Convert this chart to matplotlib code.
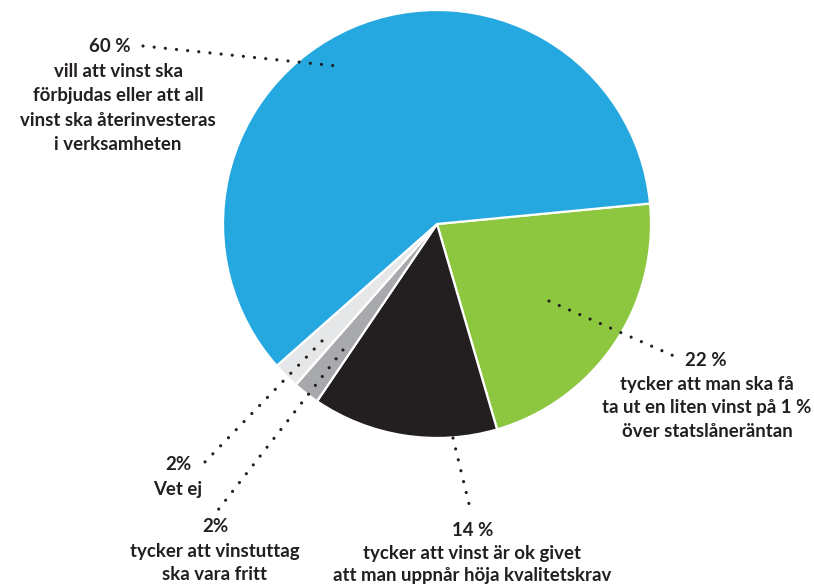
import matplotlib
matplotlib.use("Agg")
import matplotlib.pyplot as plt

# Data
categories = ["22 %", "14 %", "2% tycker", "2% Vet ej", "60 %"]
values = [22, 14, 2, 2, 60]
colors = ["#8DC63F", "#231F20", "#A7A9AC", "#E6E7E8", "#25A8E0"]

label_60 = ["vill att vinst ska", "förbjudas eller att all", "vinst ska återinvesteras", "i verksamheten"]
label_22 = ["tycker att man ska få", "ta ut en liten vinst på 1 %", "över statslåneräntan"]
label_14 = ["tycker att vinst är ok givet", "att man uppnår höja kvalitetskrav"]
label_vetej = ["Vet ej"]
label_fritt = ["tycker att vinstuttag", "ska vara fritt"]

W, H = 814, 585
fig = plt.figure(figsize=(W / 100, H / 100), dpi=100)
ax = fig.add_axes([0, 0, 1, 1])

cx, cy, r = 437, H - 224, 214
ax.pie(values, colors=colors, startangle=5.5, counterclock=False,
       center=(cx, cy), radius=r, frame=True,
       wedgeprops=dict(edgecolor="white", linewidth=1.6))
ax.set_xlim(0, W)
ax.set_ylim(0, H)
ax.axis("off")

tc = "#231F20"
font = dict(family=["Lato", "DejaVu Sans"], weight="bold", color=tc, fontsize=13.4)

def dotted(x0, y0, x1, y1):
    ax.plot([x0, x1], [H - y0, H - y1], color=tc, linewidth=2.3,
            linestyle=(0, (0.01, 3.5)), dash_capstyle="round", zorder=5)

dotted(143, 46, 337, 66)
dotted(549, 301, 674, 356)
dotted(453, 438, 469, 504)
dotted(322, 341, 204, 463)
dotted(343, 350, 218, 510)

def block(x, y0, head, lines, head_x=None, step=23.5):
    ax.text(head_x if head_x is not None else x, H - y0, head, ha="center", va="center", **font)
    for i, t in enumerate(lines):
        ax.text(x, H - (y0 + (i + 1) * step), t, ha="center", va="center", **font)

block(118, 47, "60 %", label_60, head_x=110, step=24.5)
block(707, 361, "22 %", label_22, head_x=706, step=23.5)
block(472, 530, "14 %", label_14, head_x=473, step=23)
block(178, 465, "2%", label_vetej, step=25)
block(215, 527, "2%", label_fritt, step=24)

fig.savefig("out.png", dpi=100)
